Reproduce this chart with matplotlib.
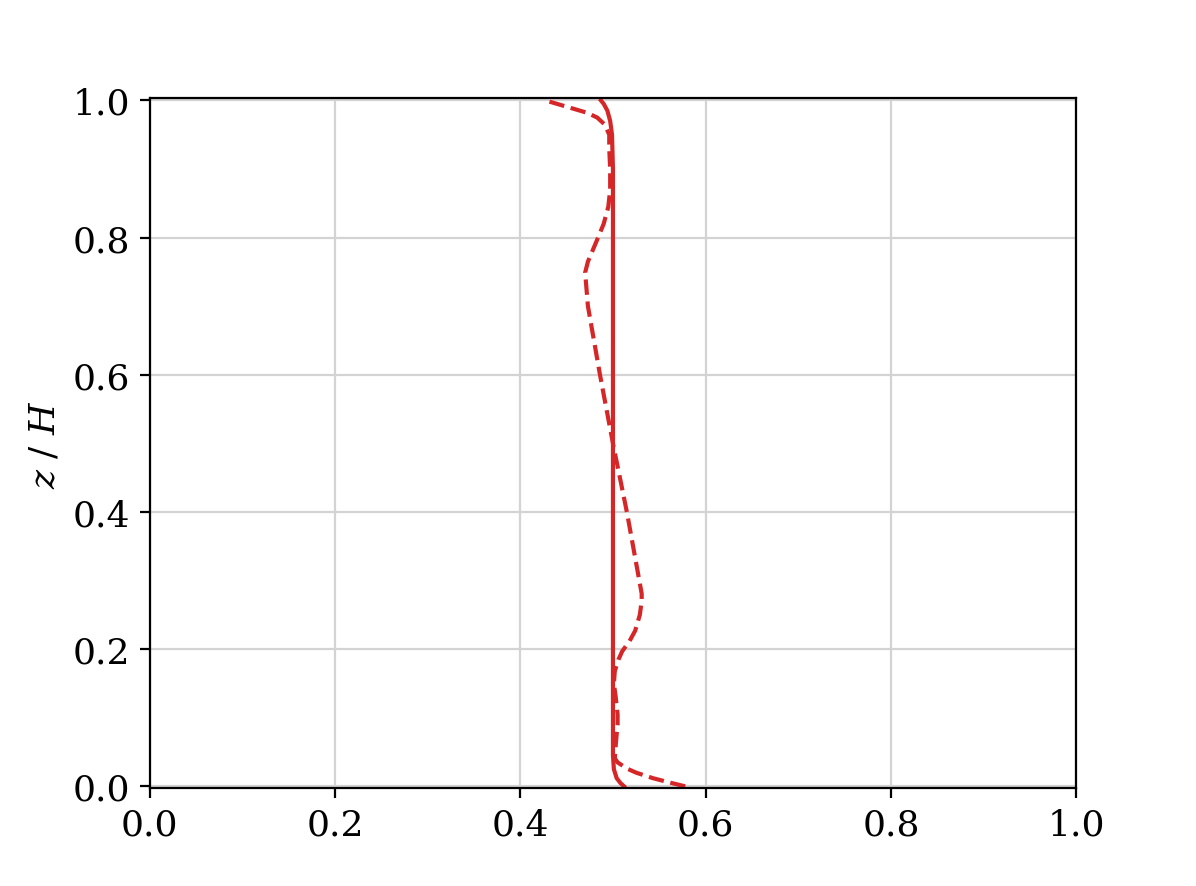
import numpy as np
import matplotlib
matplotlib.use("Agg")
import matplotlib.pyplot as plt

plt.rcParams['font.family'] = 'DejaVu Serif'
plt.rcParams['mathtext.fontset'] = 'dejavuserif'
plt.rcParams['font.size'] = 13

# solid profile
z_solid = [0.0, 0.005, 0.012, 0.025, 0.045, 0.1, 0.3, 0.5, 0.7, 0.9, 0.95, 0.97, 0.985, 0.995, 1.0]
u_solid = [0.512, 0.508, 0.504, 0.501, 0.5, 0.5, 0.5, 0.5, 0.5, 0.5, 0.499, 0.497, 0.494, 0.49, 0.487]

# dashed profile
z_dash = [0.0, 0.006, 0.012, 0.02, 0.026, 0.035, 0.041, 0.06, 0.076, 0.09, 0.105, 0.13, 0.15, 0.168,
          0.185, 0.197, 0.212, 0.227, 0.25, 0.27, 0.281, 0.4, 0.5, 0.6, 0.7, 0.749, 0.765, 0.797,
          0.82, 0.845, 0.87, 0.9, 0.93, 0.95, 0.965, 0.975, 0.982, 0.99, 1.0]
u_dash = [0.578, 0.56, 0.543, 0.525, 0.515, 0.505, 0.502, 0.503, 0.504, 0.505, 0.505, 0.503, 0.501, 0.502,
          0.506, 0.51, 0.518, 0.524, 0.529, 0.531, 0.531, 0.515, 0.5, 0.486, 0.473, 0.47, 0.473, 0.483,
          0.49, 0.495, 0.497, 0.497, 0.496, 0.496, 0.491, 0.483, 0.472, 0.452, 0.427]

fig, ax = plt.subplots(figsize=(5.98, 4.435), dpi=200)
fig.subplots_adjust(left=0.125, right=0.9, bottom=0.11, top=0.888)

ax.plot(u_solid, z_solid, color='tab:red', lw=1.5, ls='-')
ax.plot(u_dash, z_dash, color='tab:red', lw=1.5, ls='--')

ax.set_xlim(0, 1)
ax.set_ylim(-0.003, 1.003)
ax.grid(True, color='lightgray', lw=0.8)
ax.set_axisbelow(True)
ax.set_ylabel('$z$ / $H$')

fig.savefig('out.png')
